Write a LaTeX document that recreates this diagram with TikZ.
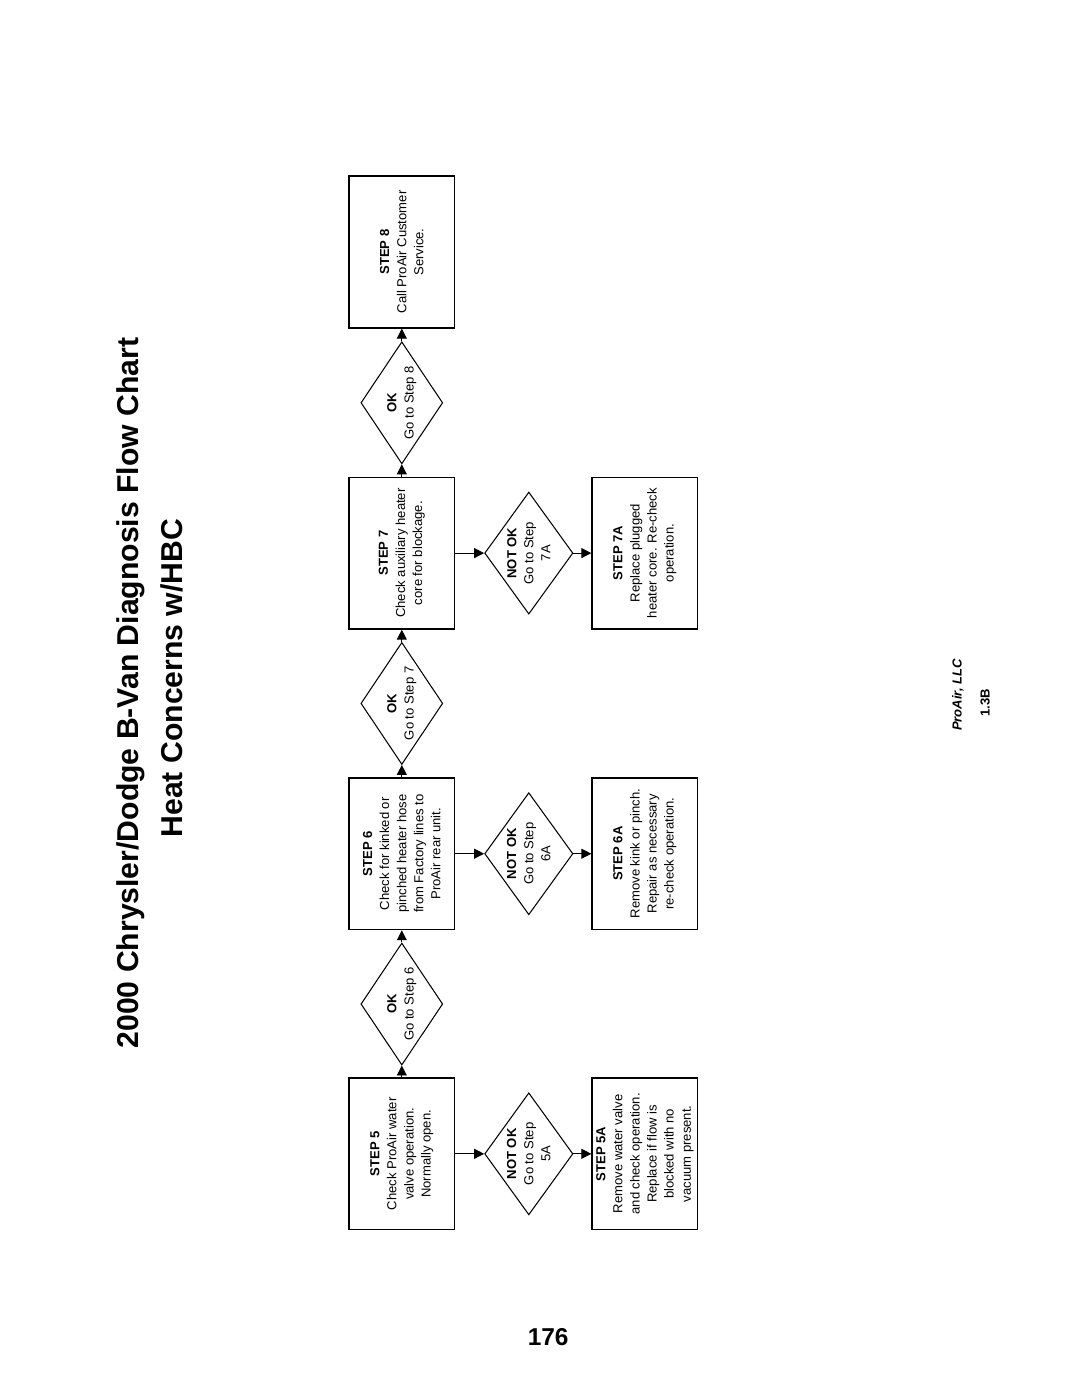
\documentclass[tikz,border=0pt]{standalone}
\usepackage{fontspec}
\setmainfont{Liberation Sans}
\usetikzlibrary{shapes.geometric,arrows.meta}
\tikzset{
    every node/.style={inner sep=0mm, font=\fontsize{7.5}{9.8}\selectfont}
}
\tikzset{
    stepbox/.style={rectangle, draw, line width=0.8pt, rotate=90, align=center, minimum width=3.06cm, minimum height=2.13cm},
    okdia/.style={diamond, draw, line width=0.6pt, rotate=90, minimum width=2.46cm, minimum height=1.65cm},
    notokdia/.style={okdia, minimum height=1.78cm},
    dialabel/.style={rotate=90, align=center},
    arr/.style={-{Triangle[length=2mm, width=2mm]}, line width=0.5pt}
}

\begin{document}
\begin{tikzpicture}
    \useasboundingbox (0cm, 0cm) rectangle (21.59cm, 27.94cm);

    \node (title1) at (2.64cm, 13.97cm) [rotate=90, font=\fontsize{17.3}{20}\selectfont\bfseries] {2000 Chrysler/Dodge B-Van Diagnosis Flow Chart};
    \node (title2) at (3.47cm, 14.27cm) [rotate=90, font=\fontsize{17.3}{20}\selectfont\bfseries] {Heat Concerns w/HBC};

    \node (s5) at (8.10cm, 4.68cm) [stepbox] {\textbf{STEP 5}\\Check ProAir water\\valve operation.\\Normally open.};
    \node (s6) at (8.10cm, 10.73cm) [stepbox] {\textbf{STEP 6}\\Check for kinked or\\pinched heater hose\\from Factory lines to\\ProAir rear unit.};
    \node (s7) at (8.10cm, 16.79cm) [stepbox] {\textbf{STEP 7}\\Check auxiliary heater\\core for blockage.};
    \node (s8) at (8.10cm, 22.86cm) [stepbox] {\textbf{STEP 8}\\Call ProAir Customer\\Service.};

    \node (s5a) at (13.00cm, 4.68cm) [stepbox] {\textbf{STEP 5A}\\Remove water valve\\and check operation.\\Replace if flow is\\blocked with no\\vacuum present.};
    \node (s6a) at (13.00cm, 10.73cm) [stepbox] {\textbf{STEP 6A}\\Remove kink or pinch.\\Repair as necessary\\re-check operation.};
    \node (s7a) at (13.00cm, 16.79cm) [stepbox] {\textbf{STEP 7A}\\Replace plugged\\heater core. Re-check\\operation.};

    \node (ok6) at (8.10cm, 7.70cm) [okdia, label={[dialabel]center:{\textbf{OK}\\Go to Step 6}}] {};
    \node (ok7) at (8.10cm, 13.76cm) [okdia, label={[dialabel]center:{\textbf{OK}\\Go to Step 7}}] {};
    \node (ok8) at (8.10cm, 19.82cm) [okdia, label={[dialabel]center:{\textbf{OK}\\Go to Step 8}}] {};

    \node (nok5) at (10.66cm, 4.68cm) [notokdia, label={[dialabel]center:{\textbf{NOT OK}\\Go to Step\\5A}}] {};
    \node (nok6) at (10.66cm, 10.73cm) [notokdia, label={[dialabel]center:{\textbf{NOT OK}\\Go to Step\\6A}}] {};
    \node (nok7) at (10.66cm, 16.79cm) [notokdia, label={[dialabel]center:{\textbf{NOT OK}\\Go to Step\\7A}}] {};

    \draw (s5) edge[arr] (ok6);
    \draw (ok6) edge[arr] (s6);
    \draw (s6) edge[arr] (ok7);
    \draw (ok7) edge[arr] (s7);
    \draw (s7) edge[arr] (ok8);
    \draw (ok8) edge[arr] (s8);

    \draw (s5) edge[arr] (nok5);
    \draw (nok5) edge[arr] (s5a);
    \draw (s6) edge[arr] (nok6);
    \draw (nok6) edge[arr] (s6a);
    \draw (s7) edge[arr] (nok7);
    \draw (nok7) edge[arr] (s7a);

    \node (company) at (19.31cm, 13.93cm) [rotate=90, font=\fontsize{7.5}{9}\selectfont\bfseries\itshape] {ProAir, LLC};
    \node (docnum) at (19.86cm, 13.77cm) [rotate=90, font=\fontsize{7.5}{9}\selectfont\bfseries] {1.3B};

    \node (pagenum) at (11.05cm, 0.99cm) [font=\fontsize{14}{16}\selectfont\bfseries] {176};
\end{tikzpicture}
\end{document}
